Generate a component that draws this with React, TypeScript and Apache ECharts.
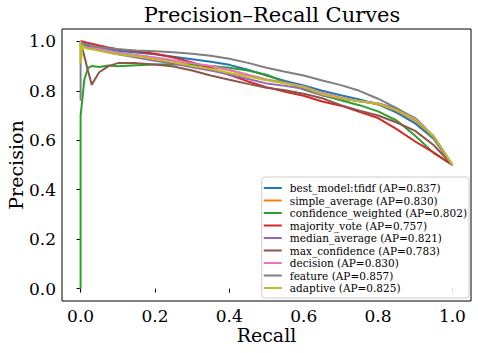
import React, { useEffect, useRef } from "react";
import * as echarts from "echarts";

const recall = [0, 0, 0.005, 0.01, 0.02, 0.03, 0.05, 0.075, 0.1, 0.15, 0.2, 0.25, 0.3, 0.35, 0.4, 0.45, 0.5, 0.55, 0.6, 0.65, 0.7, 0.75, 0.8, 0.85, 0.9, 0.95, 1.0];

const bestModel = [1.0, 1.0, 0.995, 0.99, 0.985, 0.98, 0.975, 0.968, 0.962, 0.955, 0.948, 0.938, 0.928, 0.918, 0.905, 0.885, 0.862, 0.84, 0.822, 0.8, 0.782, 0.765, 0.745, 0.712, 0.668, 0.605, 0.5];
const simpleAverage = [1.0, 1.0, 0.99, 0.985, 0.978, 0.974, 0.968, 0.96, 0.953, 0.944, 0.934, 0.922, 0.91, 0.898, 0.883, 0.864, 0.846, 0.832, 0.815, 0.79, 0.772, 0.758, 0.746, 0.72, 0.678, 0.612, 0.5];
const confidenceWeighted = [0.0, 0.7, 0.77, 0.845, 0.893, 0.9, 0.896, 0.902, 0.899, 0.903, 0.906, 0.907, 0.905, 0.9, 0.893, 0.882, 0.865, 0.835, 0.805, 0.782, 0.762, 0.742, 0.717, 0.68, 0.618, 0.548, 0.5];
const majorityVote = [1.0, 1.0, 1.0, 0.998, 0.994, 0.99, 0.983, 0.975, 0.968, 0.96, 0.95, 0.935, 0.915, 0.892, 0.865, 0.838, 0.815, 0.796, 0.78, 0.757, 0.74, 0.715, 0.69, 0.645, 0.595, 0.55, 0.5];
const medianAverage = [1.0, 1.0, 0.985, 0.98, 0.975, 0.972, 0.965, 0.955, 0.948, 0.935, 0.922, 0.91, 0.895, 0.882, 0.866, 0.848, 0.83, 0.82, 0.808, 0.782, 0.768, 0.758, 0.75, 0.728, 0.69, 0.615, 0.5];
const maxConfidence = [1.0, 1.0, 0.97, 0.94, 0.88, 0.825, 0.875, 0.9, 0.912, 0.912, 0.906, 0.898, 0.882, 0.862, 0.845, 0.828, 0.812, 0.802, 0.788, 0.77, 0.742, 0.72, 0.7, 0.672, 0.638, 0.58, 0.5];
const decision = [1.0, 1.0, 0.99, 0.985, 0.978, 0.975, 0.97, 0.962, 0.955, 0.945, 0.935, 0.924, 0.912, 0.9, 0.885, 0.865, 0.845, 0.833, 0.818, 0.79, 0.772, 0.758, 0.748, 0.722, 0.68, 0.615, 0.5];
const feature = [0.76, 1.0, 0.99, 0.985, 0.982, 0.98, 0.977, 0.972, 0.968, 0.963, 0.96, 0.956, 0.95, 0.942, 0.93, 0.913, 0.893, 0.877, 0.862, 0.842, 0.823, 0.8, 0.768, 0.73, 0.685, 0.605, 0.5];
const adaptive = [1.0, 0.91, 0.985, 0.975, 0.97, 0.968, 0.962, 0.955, 0.948, 0.94, 0.928, 0.915, 0.9, 0.888, 0.872, 0.858, 0.843, 0.83, 0.815, 0.786, 0.77, 0.758, 0.748, 0.722, 0.685, 0.615, 0.5];

const seriesNames = [
  "best_model:tfidf (AP=0.837)",
  "simple_average (AP=0.830)",
  "confidence_weighted (AP=0.802)",
  "majority_vote (AP=0.757)",
  "median_average (AP=0.821)",
  "max_confidence (AP=0.783)",
  "decision (AP=0.830)",
  "feature (AP=0.857)",
  "adaptive (AP=0.825)",
];
const seriesValues = [bestModel, simpleAverage, confidenceWeighted, majorityVote, medianAverage, maxConfidence, decision, feature, adaptive];
const colors = ["#1f77b4", "#ff7f0e", "#2ca02c", "#d62728", "#9467bd", "#8c564b", "#e377c2", "#7f7f7f", "#bcbd22"];
const tickValues = [0, 0.2, 0.4, 0.6, 0.8, 1.0];

const FONT = "'DejaVu Serif', serif";

export default function App() {
  const ref = useRef<HTMLDivElement>(null);
  useEffect(() => {
    if (!ref.current) return;
    const chart = echarts.init(ref.current, null, { renderer: "svg" });
    const axisCommon = {
      type: "value" as const,
      min: -0.05,
      max: 1.05,
      axisLine: { show: false },
      splitLine: { show: false },
      axisTick: { show: true, inside: false, length: 4, customValues: tickValues, lineStyle: { color: "#000", width: 1 } },
      axisLabel: {
        customValues: tickValues,
        formatter: (v: number) => v.toFixed(1),
        color: "#000",
        fontFamily: FONT,
        fontSize: 17,
        margin: 6,
      },
      nameLocation: "middle" as const,
      nameMoveOverlap: false,
      nameTextStyle: { fontFamily: FONT, fontSize: 19, color: "#000" },
    };
    chart.setOption({
      animation: false,
      textStyle: { fontFamily: FONT },
      color: colors,
      title: {
        text: "Precision–Recall Curves",
        left: 267,
        textAlign: "center",
        top: -1,
        textStyle: { fontFamily: FONT, fontSize: 21, fontWeight: "normal", color: "#000" },
      },
      grid: {
        left: 62,
        right: 7,
        top: 29,
        bottom: 52,
        containLabel: false,
        outerBoundsMode: "none",
        show: true,
        borderColor: "#000",
        borderWidth: 1,
        backgroundColor: "transparent",
      },
      xAxis: {
        ...axisCommon,
        name: "Recall",
        nameGap: 24,
      },
      yAxis: {
        ...axisCommon,
        name: "Precision",
        nameGap: 37,
      },
      legend: {
        orient: "vertical",
        right: 9,
        bottom: 55,
        icon: "path://M0,0 L18,0 L18,2 L0,2 Z",
        itemWidth: 18,
        itemHeight: 2,
        itemGap: 0.5,
        padding: [5, 2, 4, 2],
        backgroundColor: "rgba(255,255,255,0.85)",
        borderColor: "#cccccc",
        borderWidth: 1,
        borderRadius: 3,
        textStyle: { fontFamily: FONT, fontSize: 10.5, lineHeight: 12, color: "#000", padding: [0, 0, 0, 3] },
        data: seriesNames,
      },
      series: seriesNames.map((name, i) => ({
        name,
        type: "line",
        showSymbol: false,
        symbol: "none",
        lineStyle: { width: 2, color: colors[i] },
        itemStyle: { color: colors[i] },
        data: recall.map((r, j) => [r, seriesValues[i][j]]),
      })),
    });
    return () => chart.dispose();
  }, []);
  return (
    <div
      ref={ref}
      style={{ position: "fixed", left: 0, top: 0, width: 478, height: 353, background: "#fff" }}
    />
  );
}
